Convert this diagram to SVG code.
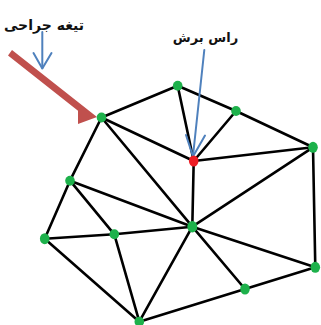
<svg xmlns="http://www.w3.org/2000/svg" width="321" height="325" viewBox="0 0 321 325">
<style>
.e{stroke:#000;stroke-width:2.6;stroke-linecap:round}
.g{fill:#1db14b}
.r{fill:#ee1c24}
.b{stroke:#4f81bd;stroke-width:2;fill:none;stroke-linecap:round;stroke-linejoin:round}
.t{font-family:"DejaVu Sans",sans-serif;font-weight:bold;fill:#111;direction:rtl}
</style>
<rect width="321" height="325" fill="#fff"/>
<g id="connectors">
<line class="e" x1="101.5" y1="117.5" x2="177.7" y2="85.7"/>
<line class="e" x1="177.7" y1="85.7" x2="236" y2="111"/>
<line class="e" x1="236" y1="111" x2="313" y2="147.3"/>
<line class="e" x1="177.7" y1="85.7" x2="193.7" y2="161"/>
<line class="e" x1="236" y1="111" x2="193.7" y2="161"/>
<line class="e" x1="193.7" y1="161" x2="313" y2="147.3"/>
<line class="e" x1="313" y1="147.3" x2="315.3" y2="267.3"/>
<line class="e" x1="193.7" y1="161" x2="192.3" y2="226.7"/>
<line class="e" x1="313" y1="147.3" x2="192.3" y2="226.7"/>
<line class="e" x1="101.5" y1="117.5" x2="193.7" y2="161"/>
<line class="e" x1="101.5" y1="117.5" x2="192.3" y2="226.7"/>
<line class="e" x1="101.5" y1="117.5" x2="70" y2="180.7"/>
<line class="e" x1="70" y1="180.7" x2="192.3" y2="226.7"/>
<line class="e" x1="70" y1="180.7" x2="114.3" y2="234.3"/>
<line class="e" x1="70" y1="180.7" x2="44.7" y2="238.7"/>
<line class="e" x1="44.7" y1="238.7" x2="114.3" y2="234.3"/>
<line class="e" x1="114.3" y1="234.3" x2="192.3" y2="226.7"/>
<line class="e" x1="44.7" y1="238.7" x2="139.3" y2="321.7"/>
<line class="e" x1="114.3" y1="234.3" x2="139.3" y2="321.7"/>
<line class="e" x1="192.3" y1="226.7" x2="139.3" y2="321.7"/>
<line class="e" x1="192.3" y1="226.7" x2="245" y2="289"/>
<line class="e" x1="192.3" y1="226.7" x2="315.3" y2="267.3"/>
<line class="e" x1="245" y1="289" x2="315.3" y2="267.3"/>
<line class="e" x1="139.3" y1="321.7" x2="245" y2="289"/>
</g>
<g id="scalpel">
<polygon points="12,50 97,117 78,124 78,110.7 8,55.5" fill="#c0504d"/>
</g>
<g id="arrow-blade">
<line class="b" x1="42.3" y1="32" x2="42.3" y2="68"/>
<polyline class="b" points="33.5,53 42.3,68.5 51.5,53"/>
</g>
<g id="arrow-vertex">
<line class="b" x1="204.3" y1="50" x2="193" y2="156"/>
<polyline class="b" points="186,135 193,156.5 205,135.5"/>
</g>
<g id="label-blade"><text class="t" x="44" y="30" font-size="14" text-anchor="middle">تیغه جراحی</text></g>
<g id="label-vertex"><text class="t" x="205.5" y="42" font-size="13" text-anchor="middle">راس برش</text></g>
<g id="nA"><ellipse class="g" cx="101.5" cy="117.5" rx="4.8" ry="5"/></g>
<g id="nB"><ellipse class="g" cx="177.7" cy="85.7" rx="4.8" ry="5"/></g>
<g id="nC"><ellipse class="g" cx="236" cy="111" rx="4.8" ry="5"/></g>
<g id="nD"><ellipse class="r" cx="193.7" cy="161" rx="4.8" ry="5.5"/></g>
<g id="nE"><ellipse class="g" cx="313" cy="147.3" rx="4.8" ry="5.5"/></g>
<g id="nF"><ellipse class="g" cx="70" cy="180.7" rx="4.8" ry="5"/></g>
<g id="nG"><ellipse class="g" cx="44.7" cy="238.7" rx="4.8" ry="5.5"/></g>
<g id="nH"><ellipse class="g" cx="114.3" cy="234.3" rx="4.8" ry="5"/></g>
<g id="nI"><ellipse class="g" cx="192.3" cy="226.7" rx="5" ry="5.8"/></g>
<g id="nJ"><ellipse class="g" cx="315.3" cy="267.3" rx="4.8" ry="5.5"/></g>
<g id="nK"><ellipse class="g" cx="245" cy="289" rx="4.8" ry="5.5"/></g>
<g id="nL"><ellipse class="g" cx="139.3" cy="321.7" rx="4.8" ry="5"/></g>
</svg>
